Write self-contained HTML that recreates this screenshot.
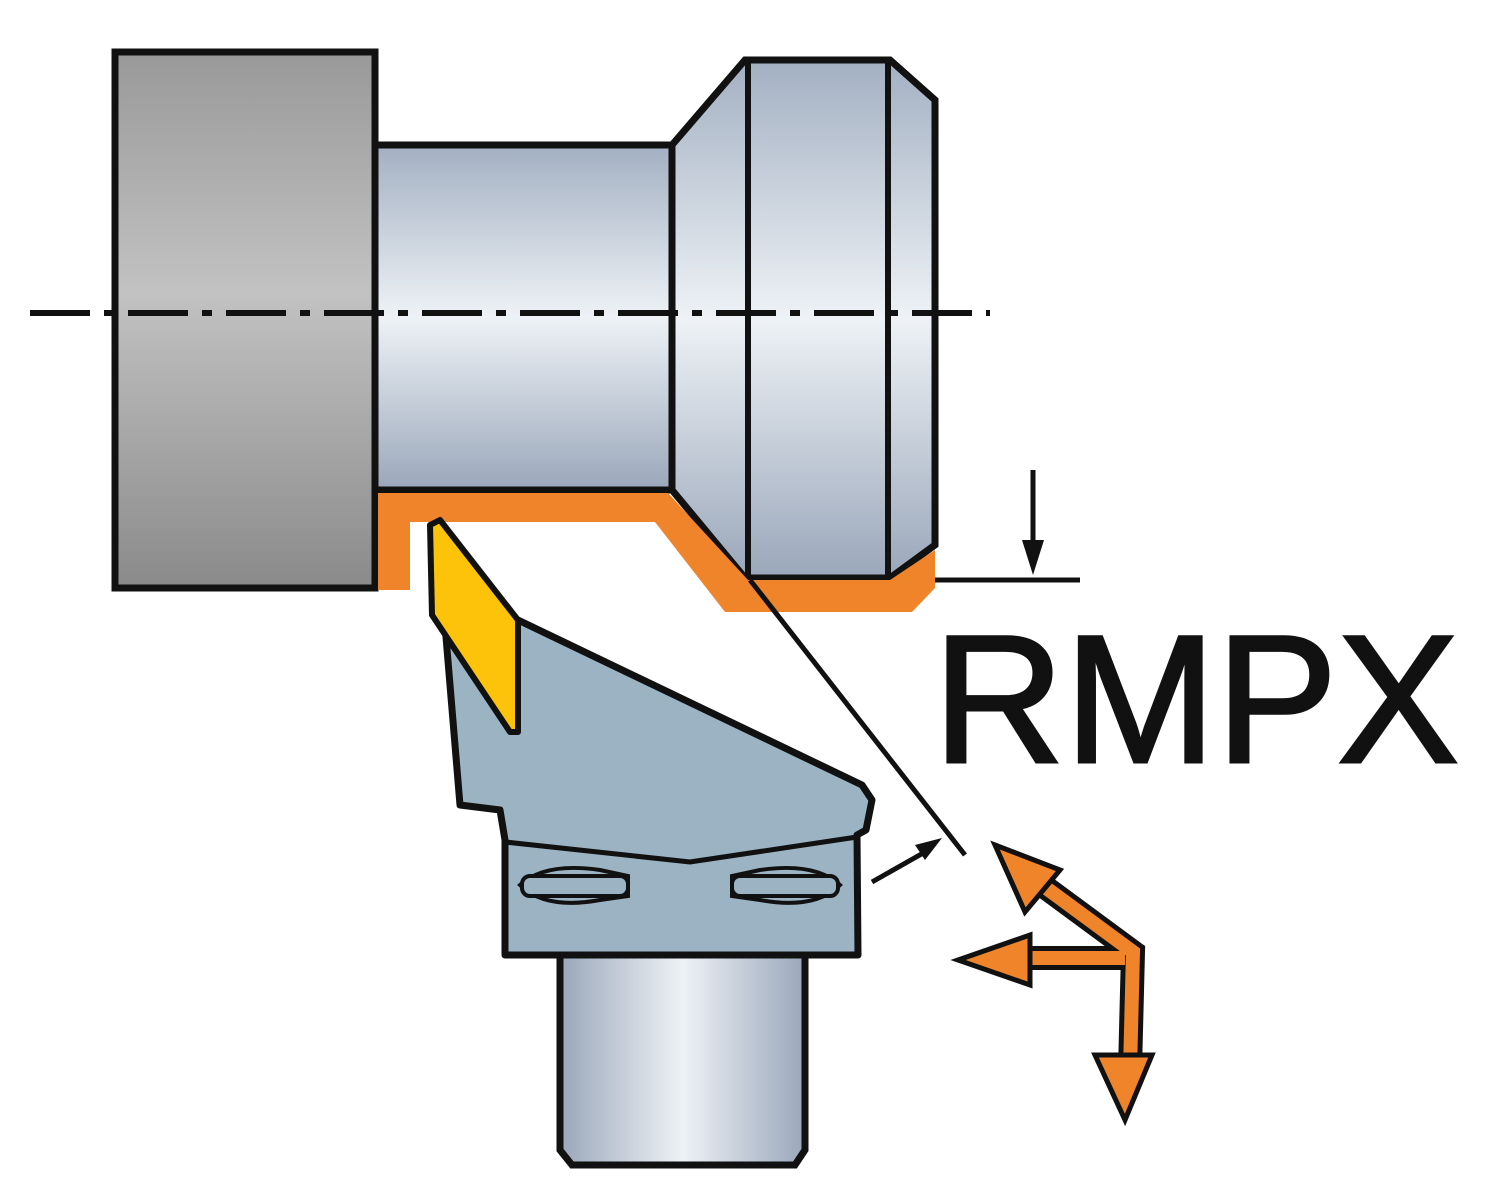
<!DOCTYPE html>
<html><head><style>html,body{margin:0;padding:0;background:#fff}</style></head>
<body>
<svg width="1500" height="1199" viewBox="0 0 1500 1199" xmlns="http://www.w3.org/2000/svg">
<defs>
<linearGradient id="gr2" x1="0" y1="0" x2="0" y2="1">
<stop offset="0" stop-color="#999"/><stop offset="0.45" stop-color="#c2c2c2"/><stop offset="1" stop-color="#8a8a8a"/></linearGradient>
<linearGradient id="bl" x1="0" y1="0" x2="0" y2="1">
<stop offset="0" stop-color="#a3b0c2"/><stop offset="0.5" stop-color="#eef2f6"/><stop offset="1" stop-color="#9aa7ba"/></linearGradient>
<linearGradient id="blh" x1="0" y1="0" x2="1" y2="0">
<stop offset="0" stop-color="#9aa7ba"/><stop offset="0.5" stop-color="#eef2f6"/><stop offset="1" stop-color="#9aa7ba"/></linearGradient>
</defs>
<rect x="115" y="52" width="260" height="536" fill="url(#gr2)" stroke="#111" stroke-width="7"/>
<rect x="375" y="145" width="297" height="345" fill="url(#bl)" stroke="#111" stroke-width="7"/>
<polygon points="672,145 745,60 890,60 935,100 935,545 890,578 745,578 672,490" fill="url(#bl)" stroke="#111" stroke-width="7"/>
<line x1="748" y1="60" x2="748" y2="578" stroke="#111" stroke-width="6"/>
<line x1="888" y1="60" x2="888" y2="578" stroke="#111" stroke-width="6"/>
<polygon points="378,493 668,493 748,580 890,580 935,550 935,588 912,612 725,612 655,522 410,522 410,590 378,590" fill="#f0842a"/>
<line x1="30" y1="313" x2="990" y2="313" stroke="#111" stroke-width="6" stroke-dasharray="60,14,10,14"/>
<polygon points="518,620 862,785 872,800 866,830 857,835 858,955 505,955 505,840 500,810 460,805 445,625" fill="#9bb3c3" stroke="#111" stroke-width="7" stroke-linejoin="round"/>
<polyline points="505,842 690,862 857,837" fill="none" stroke="#111" stroke-width="5"/>
<path d="M520,885 Q545,862 600,870 L628,876 L628,896 L600,900 Q545,910 520,885 Z" fill="#9bb3c3" stroke="#111" stroke-width="4"/>
<rect x="522" y="876" width="106" height="20" rx="8" fill="#9bb3c3" stroke="#111" stroke-width="4"/>
<path d="M840,885 Q815,862 760,870 L732,876 L732,896 L760,900 Q815,910 840,885 Z" fill="#9bb3c3" stroke="#111" stroke-width="4"/>
<rect x="732" y="876" width="106" height="20" rx="8" fill="#9bb3c3" stroke="#111" stroke-width="4"/>
<polygon points="430,525 440,520 518,620 518,732 510,732 432,615" fill="#fcc30a" stroke="#111" stroke-width="6" stroke-linejoin="round"/>
<path d="M560,955 L805,955 L805,1150 L795,1165 L572,1165 L560,1150 Z" fill="url(#blh)" stroke="#111" stroke-width="7"/>
<line x1="750" y1="580" x2="965" y2="855" stroke="#111" stroke-width="5"/>
<line x1="872" y1="882" x2="925" y2="852" stroke="#111" stroke-width="5"/>
<polygon points="942,838 915,845 925,860" fill="#111"/>
<line x1="935" y1="580" x2="1080" y2="580" stroke="#111" stroke-width="5"/>
<line x1="1033" y1="470" x2="1033" y2="545" stroke="#111" stroke-width="5"/>
<polygon points="1033,575 1022,540 1044,540" fill="#111"/>
<g stroke-linejoin="miter">
<polyline points="1015,865 1133,952 1130,1070" fill="none" stroke="#111" stroke-width="24"/>
<polyline points="1000,958 1125,958" fill="none" stroke="#111" stroke-width="24"/>
<polyline points="1015,865 1133,952 1130,1070" fill="none" stroke="#f0842a" stroke-width="14"/>
<polyline points="1000,958 1125,958" fill="none" stroke="#f0842a" stroke-width="14"/>
<polygon points="995,845 1060,870 1025,912" fill="#f0842a" stroke="#111" stroke-width="5"/>
<polygon points="958,960 1030,935 1030,985" fill="#f0842a" stroke="#111" stroke-width="5"/>
<polygon points="1125,1120 1095,1055 1152,1055" fill="#f0842a" stroke="#111" stroke-width="5"/>
</g>
<text x="933" y="762" font-family="Liberation Sans, sans-serif" font-size="182" fill="#111" stroke="#111" stroke-width="3">RMPX</text>
</svg>
</body></html>
